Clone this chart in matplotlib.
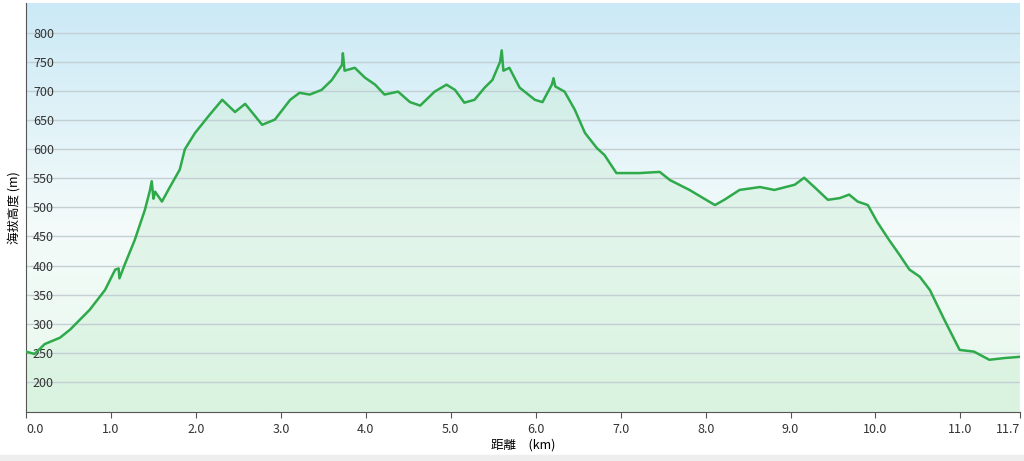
import numpy as np
import matplotlib
matplotlib.use("Agg")
import matplotlib.pyplot as plt
from matplotlib.colors import LinearSegmentedColormap

plt.rcParams['font.family'] = ['Noto Sans CJK JP', 'DejaVu Sans']

dist_km = [0.0, 0.1, 0.22, 0.4, 0.52, 0.75, 0.93, 1.05, 1.09, 1.1, 1.16, 1.28, 1.4, 1.46, 1.48, 1.5, 1.52, 1.6, 1.69,
           1.81, 1.87, 1.99, 2.16, 2.31, 2.46, 2.58, 2.78, 2.93, 3.11, 3.22, 3.34, 3.48, 3.6, 3.72, 3.73,
           3.75, 3.87, 3.99, 4.11, 4.22, 4.38, 4.52, 4.64, 4.81, 4.95, 5.05, 5.16, 5.28, 5.4, 5.49, 5.58,
           5.6, 5.62, 5.69, 5.81, 5.99, 6.08, 6.19, 6.21, 6.23, 6.34, 6.46, 6.58, 6.72, 6.81, 6.95, 7.22,
           7.46, 7.58, 7.81, 8.11, 8.22, 8.4, 8.64, 8.81, 9.05, 9.16, 9.28, 9.44, 9.58, 9.69, 9.79, 9.91,
           10.02, 10.16, 10.28, 10.4, 10.52, 10.64, 10.81, 10.99, 11.16, 11.34, 11.52, 11.69]
elev_m = [252, 248, 265, 276, 290, 324, 358, 393, 395, 378, 401, 444, 496, 530, 545, 515, 527, 510, 534,
          565, 600, 628, 659, 685, 664, 678, 642, 651, 685, 697, 694, 702, 719, 745, 765,
          735, 740, 723, 711, 694, 699, 681, 675, 699, 711, 702, 680, 685, 706, 719, 750,
          770, 735, 740, 706, 685, 681, 711, 722, 708, 699, 668, 628, 602, 590, 559, 559,
          561, 547, 530, 504, 513, 530, 535, 530, 539, 551, 535, 513, 516, 522, 510, 504,
          475, 444, 419, 393, 381, 358, 307, 255, 252, 238, 241, 243]
y_ticks = [200, 250, 300, 350, 400, 450, 500, 550, 600, 650, 700, 750, 800]
x_ticks = [0.0, 1.0, 2.0, 3.0, 4.0, 5.0, 6.0, 7.0, 8.0, 9.0, 10.0, 11.0, 11.7]

fig = plt.figure(figsize=(10.24, 4.61), dpi=100)
ax = fig.add_axes([0.0254, 0.106, 0.9706, 0.887])
xmin, xmax, ymin, ymax = 0, 11.7, 148, 851

bg = LinearSegmentedColormap.from_list('bg', [(0, '#e6f8eb'), (0.45, '#f4fbfa'), (1, '#cbe9f6')])
ax.imshow(np.linspace(0, 1, 256).reshape(-1, 1), cmap=bg, origin='lower', aspect='auto',
          extent=[xmin, xmax, ymin, ymax], zorder=0)
ax.fill_between(dist_km, ymin, elev_m, color='#c4ebcd', alpha=0.35, zorder=1, lw=0)
for t in y_ticks:
    ax.axhline(t, color='#c4cfd4', lw=1, zorder=1.5)
ax.plot(dist_km, elev_m, color='#2eaa4a', lw=1.8, zorder=3)

ax.set_xlim(xmin, xmax)
ax.set_ylim(ymin, ymax)
ax.set_yticks(y_ticks)
ax.set_yticklabels([str(t) for t in y_ticks], ha='left', fontsize=9, color='#333333')
ax.tick_params(axis='y', length=0, pad=-5)
ax.set_xticks(x_ticks)
labels = ax.set_xticklabels([f'{t:.1f}' for t in x_ticks], fontsize=9, color='#333333')
labels[0].set_ha('left')
labels[-1].set_ha('right')
ax.tick_params(axis='x', length=4, color='#555555')
for s in ['top', 'right']:
    ax.spines[s].set_visible(False)
for s in ['left', 'bottom']:
    ax.spines[s].set_color('#555555')
ax.set_xlabel('距離　(km)', fontsize=9, labelpad=2)
fig.text(0.014, 0.55, '海拔高度 (m)', rotation=90, va='center', ha='center', fontsize=9)
fig.patches.append(plt.Rectangle((0, 0), 1, 0.012, transform=fig.transFigure, color='#eeeeee'))
fig.savefig('out.png', dpi=100)
